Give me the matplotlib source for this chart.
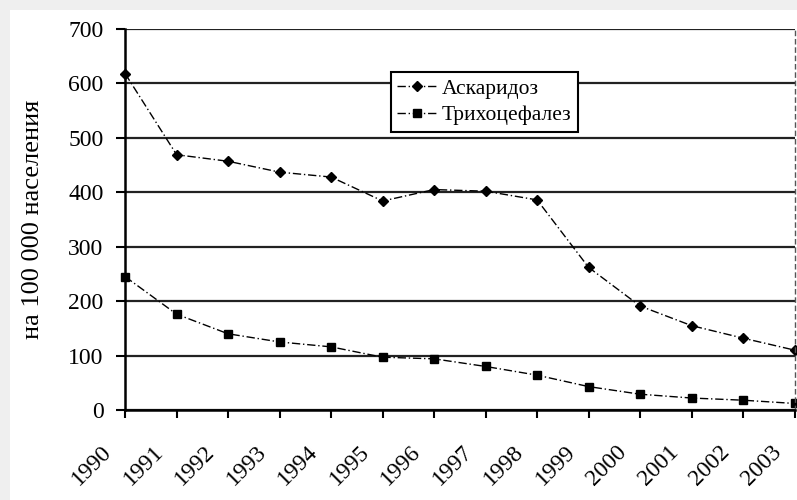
import numpy as np
import matplotlib.pyplot as plt
import matplotlib.patches as mpatches
from matplotlib.transforms import ScaledTranslation

years = [str(y) for y in range(1990, 2004)]
ascaridoz = [618, 469, 457, 437, 428, 384, 405, 402, 386, 262, 191, 155, 132, 110]
trichoceph = [245, 176, 140, 125, 116, 97, 94, 80, 64, 43, 29, 22, 18, 12]

plt.rcParams['font.family'] = ['Liberation Serif', 'DejaVu Serif']

fig = plt.figure(figsize=(7.97, 5.0), dpi=100, facecolor='#efefef')
# white panel behind the chart
fig.patches.append(mpatches.Rectangle((10 / 797, 0), 1, 1 - 10 / 500,
                                      transform=fig.transFigure, facecolor='white',
                                      edgecolor='none', zorder=-10))
ax = fig.add_axes([0.157, 0.18, 0.84, 0.762])
ax.set_facecolor('white')

x = np.arange(len(years))
ax.plot(x, ascaridoz, color='black', linewidth=1.0, linestyle=(0, (6, 2, 1, 2)),
        marker='D', markersize=5, label='Аскаридоз', clip_on=False)
ax.plot(x, trichoceph, color='black', linewidth=1.0, linestyle=(0, (6, 2, 1, 2)),
        marker='s', markersize=5.5, label='Трихоцефалез', clip_on=False)

ax.set_xlim(0, len(years) - 1)
ax.set_ylim(0, 700)
ax.set_yticks(np.arange(0, 701, 100))
ax.set_xticks(x)
ax.set_xticklabels(years, rotation=45, ha='right', va='center', rotation_mode='anchor')
ax.tick_params(axis='x', direction='out', length=6, width=1.5, labelsize=17, pad=22)
ax.tick_params(axis='y', direction='out', length=6.5, width=1.5, labelsize=17, pad=9)
offset = ScaledTranslation(-12 / 72, 0, fig.dpi_scale_trans)
for lbl in ax.get_xticklabels():
    lbl.set_transform(lbl.get_transform() + offset)

ax.yaxis.grid(True, color='#222222', linewidth=1.6)
ax.set_axisbelow(True)
ax.spines['top'].set_visible(False)
ax.spines['right'].set_linestyle((0, (3, 3)))
ax.spines['right'].set_color('#555555')
ax.spines['right'].set_linewidth(1.0)
ax.spines['left'].set_linewidth(1.8)
ax.spines['bottom'].set_linewidth(1.8)

ax.set_ylabel('на 100 000 населения', fontsize=19, va='center')
ax.yaxis.set_label_coords(-0.137, 0.5)

leg = ax.legend(loc='upper left', bbox_to_anchor=(0.397, 0.887), fontsize=15.5,
                frameon=True, fancybox=False, edgecolor='black', framealpha=1,
                borderpad=0.3, borderaxespad=0, handlelength=1.8, handletextpad=0.25,
                labelspacing=0.3)
leg.get_frame().set_linewidth(1.5)

fig.savefig('out.png', dpi=100, facecolor=fig.get_facecolor())
